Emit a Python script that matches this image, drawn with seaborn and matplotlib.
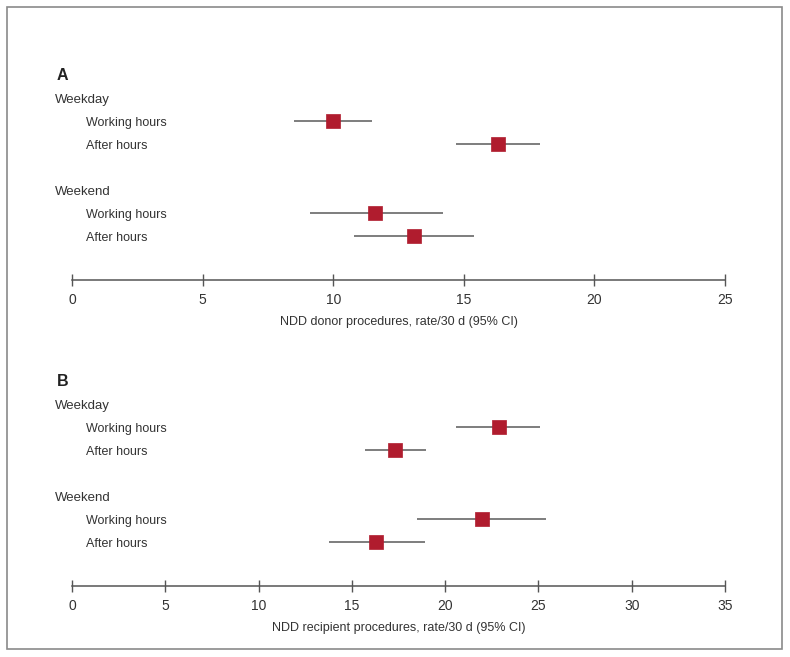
import matplotlib
matplotlib.use('Agg')
import matplotlib.pyplot as plt
import matplotlib.transforms as mtransforms
from matplotlib.patches import Rectangle
import seaborn as sns
import pandas as pd

# rows in each panel
row_labels = ['Working hours', 'After hours', 'Working hours', 'After hours']
row_pos = [1, 2, 5, 6]
group_labels = ['Weekday', 'Weekend']
group_pos = [0, 4]

# panel A: NDD donor procedures
donor_est = [10.0, 16.3, 11.6, 13.1]
donor_lo = [8.5, 14.7, 9.1, 10.8]
donor_hi = [11.5, 17.9, 14.2, 15.4]

# panel B: NDD recipient procedures
recip_est = [22.9, 17.3, 22.0, 16.3]
recip_lo = [20.6, 15.7, 18.5, 13.8]
recip_hi = [25.1, 19.0, 25.4, 18.9]

sns.set_theme(style='white')
plt.rcParams['font.family'] = ['Liberation Sans', 'DejaVu Sans']

TEXT = '#333333'
RED = '#B01C2E'
W, H = 790, 657
fig = plt.figure(figsize=(W / 100, H / 100), dpi=100)

# outer frame
fig.patches.append(Rectangle((7 / W, 1 - 649 / H), 775 / W, 642 / H,
                             transform=fig.transFigure, fill=False,
                             edgecolor='#8a8a8a', linewidth=1.2))

panels = [
    ('A', donor_est, donor_lo, donor_hi, 25, 5,
     'NDD donor procedures, rate/30 d (95% CI)', 280),
    ('B', recip_est, recip_lo, recip_hi, 35, 5,
     'NDD recipient procedures, rate/30 d (95% CI)', 586),
]

for letter, est, lo, hi, xmax, step, xlabel, axis_px in panels:
    row_h = 23
    top_px = axis_px - 9.41 * row_h
    ax = fig.add_axes([72 / W, 1 - axis_px / H, 653 / W, (axis_px - top_px) / H])
    ax.set_xlim(0, xmax)
    ax.set_ylim(7.91, -1.5)

    df = pd.DataFrame({'est': est, 'lo': lo, 'hi': hi, 'row': row_pos})
    ax.hlines(df['row'], df['lo'], df['hi'], color='#5a5a5a', linewidth=1.1, zorder=2)
    sns.scatterplot(data=df, x='est', y='row', marker='s', s=110, color=RED,
                    edgecolor=RED, linewidth=0.5, ax=ax, zorder=3, legend=False)

    blend = mtransforms.blended_transform_factory(fig.transFigure, ax.transData)
    for lab, y in zip(group_labels, group_pos):
        ax.text(55 / W, y, lab, transform=blend, ha='left', va='center_baseline',
                fontsize=9.5, color=TEXT, clip_on=False)
    for lab, y in zip(row_labels, row_pos):
        ax.text(86 / W, y, lab, transform=blend, ha='left', va='center_baseline',
                fontsize=9, color=TEXT, clip_on=False)
    ax.text(57 / W, -1.05, letter, transform=blend, ha='left', va='center_baseline',
            fontsize=11.5, fontweight='bold', color='#222222', clip_on=False)

    for side in ['top', 'right', 'left']:
        ax.spines[side].set_visible(False)
    ax.spines['bottom'].set_color('#555555')
    ax.spines['bottom'].set_linewidth(1.1)
    ax.set_xticks(range(0, xmax + 1, step))
    ax.set_yticks([])
    ax.tick_params(axis='x', direction='inout', length=8, width=1,
                   color='#555555', labelcolor=TEXT, labelsize=10, pad=5,
                   bottom=True)
    for t in ax.get_xticklabels():
        t.set_family(['Liberation Sans Narrow', 'Liberation Sans', 'DejaVu Sans'])
    ax.set_xlabel(xlabel, fontsize=9, color=TEXT, labelpad=7)
    ax.set_ylabel('')

fig.savefig('out.png', dpi=100, facecolor='white')
